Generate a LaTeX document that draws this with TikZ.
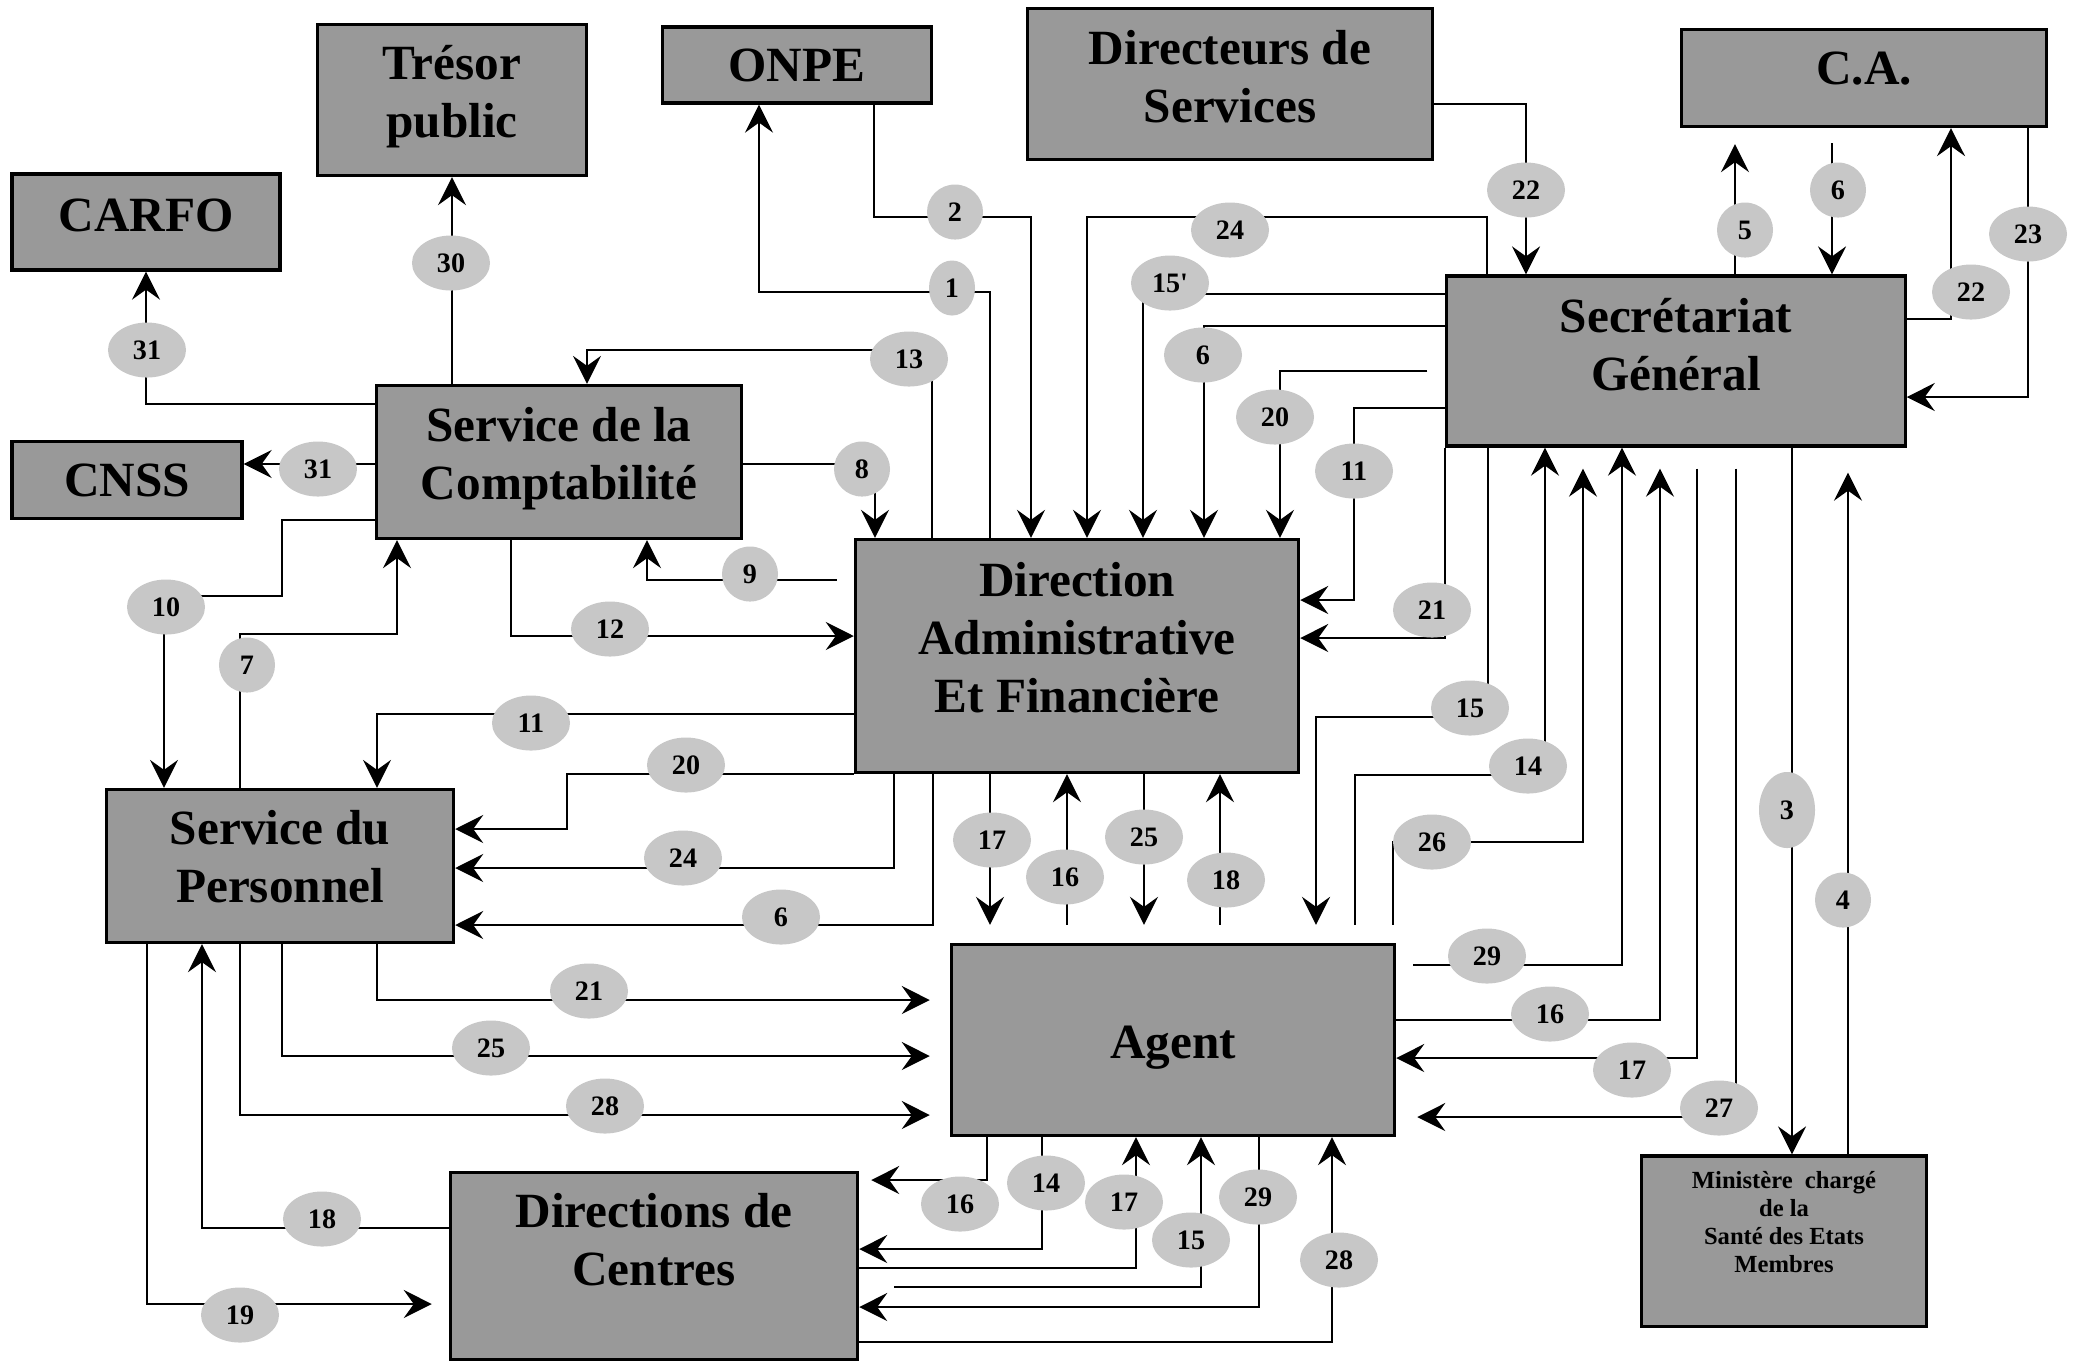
\documentclass[tikz,border=0pt]{standalone}
\usepackage{fontspec}
\setmainfont{Liberation Serif}
\usetikzlibrary{arrows.meta, shapes.geometric}
\definecolor{boxgray}{gray}{0.6}
\definecolor{numgray}{gray}{0.78}
% box text set a little above the centre
\newcommand{\liftup}[2]{\raisebox{#1}[\height][\depth]{\begin{tabular}{@{}c@{}}#2\end{tabular}}}

\tikzset{
  box/.style={draw=black, line width=0.9pt, fill=boxgray, align=center, inner sep=0pt,
    font=\fontsize{14}{16.4}\selectfont\bfseries},
  num/.style={ellipse, fill=numgray, minimum width=0.78cm, minimum height=0.55cm,
    inner sep=0pt, font=\fontsize{8}{9}\selectfont\bfseries},
  numsm/.style={num, minimum width=0.56cm},
  wire/.style={line width=0.6pt},
  arr/.style={wire, -{Stealth[length=0.28cm, width=0.28cm, inset=0.1cm]}},
}

\begin{document}
\begin{tikzpicture}[x=0.01cm, y=-0.01cm]
\useasboundingbox (0,0) rectangle (2073,1362);

% boxes
\node[box, minimum width=2.69cm, minimum height=1.51cm] (tresor) at (452,100) {\liftup{0.03cm}{Trésor\\public}};
\node[box, minimum width=2.69cm, minimum height=0.76cm] (onpe) at (797,65) {ONPE};
\node[box, minimum width=4.04cm, minimum height=1.51cm] (dirserv) at (1230,84) {\liftup{0.02cm}{Directeurs de\\Services}};
\node[box, minimum width=3.65cm, minimum height=0.97cm] (ca) at (1864,78) {\liftup{0.05cm}{C.A.}};
\node[box, minimum width=2.68cm, minimum height=0.96cm] (carfo) at (146,222) {\liftup{0.02cm}{CARFO}};
\node[box, minimum width=2.30cm, minimum height=0.77cm] (cnss) at (127,480) {CNSS};
\node[box, minimum width=3.64cm, minimum height=1.53cm] (compta) at (559,462) {\liftup{0.03cm}{Service de la\\Comptabilité}};
\node[box, minimum width=4.58cm, minimum height=1.70cm] (sg) at (1676,361) {\liftup{0.11cm}{Secrétariat\\Général}};
\node[box, minimum width=4.43cm, minimum height=2.33cm] (daf) at (1077,656) {\liftup{0.13cm}{Direction\\Administrative\\Et Financière}};
\node[box, minimum width=3.47cm, minimum height=1.53cm] (perso) at (280,866) {\liftup{0.04cm}{Service du\\Personnel}};
\node[box, minimum width=4.43cm, minimum height=1.91cm] (agent) at (1173,1040) {\liftup{-0.07cm}{Agent}};
\node[box, minimum width=4.07cm, minimum height=1.87cm] (dircen) at (654,1266) {\liftup{0.21cm}{Directions de\\Centres}};
\node[box, minimum width=2.85cm, minimum height=1.70cm, font=\fontsize{7}{8}\selectfont\bfseries]
  (minist) at (1784,1241) {\liftup{0.16cm}{Ministère~~chargé\\de la\\Santé des Etats\\Membres}};

% Comptabilite
\draw[arr] (compta.west |- 0,404) -| (carfo.south);
\draw[arr] (compta.west |- 0,464) -- (cnss.east |- 0,464);
\draw[arr] (compta.north -| tresor.south) -- (tresor.south);
\draw[arr] (compta.west |- 0,520) -- (282,520) -- (282,596) -| (perso.north -| 164,0);
\draw[arr] (perso.north -| 240,0) |- (397,634) -- (compta.south -| 397,0);
\draw[arr] (compta.south -| 511,0) |- (daf.west |- 0,636);
\draw[arr, shorten <=0.17cm] (daf.west |- 0,580) -| (compta.south -| 647,0);
\draw[arr] (compta.east |- 0,464) -| (daf.north -| 875,0);
\draw[arr] (daf.north -| 932,0) |- (587,350) -- (compta.north -| 587,0);

% ONPE
\draw[arr] (daf.north -| 990,0) |- (759,292) -- (onpe.south -| 759,0);
\draw[arr] (onpe.south -| 874,0) |- (1031,217) -- (daf.north -| 1031,0);

% Secretariat -> DAF
\draw[arr] (dirserv.east |- 0,104) -| (sg.north -| 1526,0);
\draw[arr] (sg.north -| 1487,0) |- (1087,217) -- (daf.north -| 1087,0);
\draw[arr] (sg.west |- 0,294) -| (daf.north -| 1143,0);
\draw[arr] (sg.west |- 0,326) -| (daf.north -| 1204,0);
\draw[arr, shorten <=0.18cm] (sg.west |- 0,371) -| (daf.north -| 1280,0);
\draw[arr] (sg.west |- 0,408) -| (1354,600) -- (daf.east |- 0,600);
\draw[arr] (sg.south west) |- (daf.east |- 0,638);

% Secretariat <-> C.A.
\draw[arr, shorten >=0.16cm] (sg.north -| 1735,0) -- (ca.south -| 1735,0);
\draw[arr, shorten <=0.15cm] (ca.south -| 1832,0) -- (sg.north -| 1832,0);
\draw[arr] (sg.east |- 0,319) -| (ca.south -| 1951,0);
\draw[arr] (ca.south -| 2028,0) |- (sg.east |- 0,397);

% DAF <-> Agent
\draw[arr, shorten >=0.18cm] (daf.south -| 990,0) -- (agent.north -| 990,0);
\draw[arr, shorten <=0.18cm] (agent.north -| 1067,0) -- (daf.south -| 1067,0);
\draw[arr, shorten >=0.18cm] (daf.south -| 1144,0) -- (agent.north -| 1144,0);
\draw[arr, shorten <=0.18cm] (agent.north -| 1220,0) -- (daf.south -| 1220,0);

% Secretariat <-> Agent
\draw[arr, shorten >=0.18cm] (sg.south -| 1488,0) |- (1316,717) -- (agent.north -| 1316,0);
\draw[arr, shorten <=0.18cm] (agent.north -| 1355,0) |- (1545,775) -- (sg.south -| 1545,0);
\draw[arr, shorten <=0.18cm, shorten >=0.21cm] (agent.north -| 1393,0) |- (1583,842) -- (sg.south -| 1583,0);
\draw[arr, shorten <=0.17cm] (agent.east |- 0,965) -| (sg.south -| 1622,0);
\draw[arr, shorten >=0.21cm] (agent.east |- 0,1020) -| (sg.south -| 1660,0);
\draw[arr, shorten <=0.21cm] (sg.south -| 1697,0) |- (agent.east |- 0,1058);
\draw[arr, shorten <=0.21cm, shorten >=0.21cm] (sg.south -| 1736,0) |- (agent.east |- 0,1117);

% Secretariat <-> Ministere
\draw[arr] (sg.south -| 1792,0) -- (minist.north -| 1792,0);
\draw[arr, shorten >=0.25cm] (minist.north -| 1848,0) -- (sg.south -| 1848,0);

% DAF -> Personnel
\draw[arr] (daf.west |- 0,714) -| (perso.north -| 377,0);
\draw[arr] (daf.south west) -| (567,829) -- (perso.east |- 0,829);
\draw[arr] (daf.south -| 894,0) |- (perso.east |- 0,868);
\draw[arr] (daf.south -| 933,0) |- (perso.east |- 0,925);

% Personnel -> Agent
\draw[arr, shorten >=0.2cm] (perso.south -| 377,0) |- (agent.west |- 0,1000);
\draw[arr, shorten >=0.2cm] (perso.south -| 282,0) |- (agent.west |- 0,1056);
\draw[arr, shorten >=0.2cm] (perso.south -| 240,0) |- (agent.west |- 0,1115);

% Personnel <-> Directions de Centres
\draw[arr] (dircen.west |- 0,1228) -| (perso.south -| 202,0);
\draw[arr, shorten >=0.17cm] (perso.south -| 147,0) |- (dircen.west |- 0,1304);

% Agent <-> Directions de Centres
\draw[arr, shorten >=0.12cm] (agent.south -| 987,0) |- (dircen.east |- 0,1180);
\draw[arr] (agent.south -| 1042,0) |- (dircen.east |- 0,1249);
\draw[arr] (dircen.east |- 0,1268) -| (agent.south -| 1136,0);
\draw[arr, shorten <=0.35cm] (dircen.east |- 0,1287) -| (agent.south -| 1201,0);
\draw[arr] (agent.south -| 1259,0) |- (dircen.east |- 0,1307);
\draw[arr] (dircen.east |- 0,1342) -| (agent.south -| 1332,0);

% numbers
\node[num] (n31a) at (147,350) {31};
\node[num] (n31b) at (318,469) {31};
\node[num] (n30) at (451,263) {30};
\node[num] (n10) at (166,607) {10};
\node[numsm] (n7) at (247,665) {7};
\node[num] (n12) at (610,629) {12};
\node[numsm] (n9) at (750,574) {9};
\node[numsm] (n8) at (862,469) {8};
\node[num] (n13) at (909,359) {13};
\node[numsm, minimum width=0.46cm] (n1) at (952,288) {1};
\node[numsm] (n2) at (955,212) {2};
\node[num] (n22a) at (1526,190) {22};
\node[num] (n24a) at (1230,230) {24};
\node[num] (n15p) at (1170,283) {15\textquotesingle};
\node[num] (n6a) at (1203,355) {6};
\node[num] (n20a) at (1275,417) {20};
\node[num] (n11a) at (1354,471) {11};
\node[num] (n21a) at (1432,610) {21};
\node[numsm] (n5) at (1745,230) {5};
\node[numsm] (n6b) at (1838,190) {6};
\node[num] (n22b) at (1971,292) {22};
\node[num] (n23) at (2028,234) {23};
\node[num] (n17a) at (992,840) {17};
\node[num] (n16a) at (1065,877) {16};
\node[num] (n25a) at (1144,837) {25};
\node[num] (n18a) at (1226,880) {18};
\node[num] (n15a) at (1470,708) {15};
\node[num] (n14a) at (1528,766) {14};
\node[num] (n26) at (1432,842) {26};
\node[num] (n29a) at (1487,956) {29};
\node[num] (n16b) at (1550,1014) {16};
\node[num] (n17b) at (1632,1070) {17};
\node[num] (n27) at (1719,1108) {27};
\node[numsm, minimum height=0.76cm] (n3) at (1787,810) {3};
\node[numsm] (n4) at (1843,900) {4};
\node[num] (n11b) at (531,723) {11};
\node[num] (n20b) at (686,765) {20};
\node[num] (n24b) at (683,858) {24};
\node[num] (n6c) at (781,917) {6};
\node[num] (n21b) at (589,991) {21};
\node[num] (n25b) at (491,1048) {25};
\node[num] (n28a) at (605,1106) {28};
\node[num] (n18b) at (322,1219) {18};
\node[num] (n19) at (240,1315) {19};
\node[num] (n16c) at (960,1204) {16};
\node[num] (n14b) at (1046,1183) {14};
\node[num] (n17c) at (1124,1202) {17};
\node[num] (n15b) at (1191,1240) {15};
\node[num] (n29b) at (1258,1197) {29};
\node[num] (n28b) at (1339,1260) {28};
\end{tikzpicture}
\end{document}
